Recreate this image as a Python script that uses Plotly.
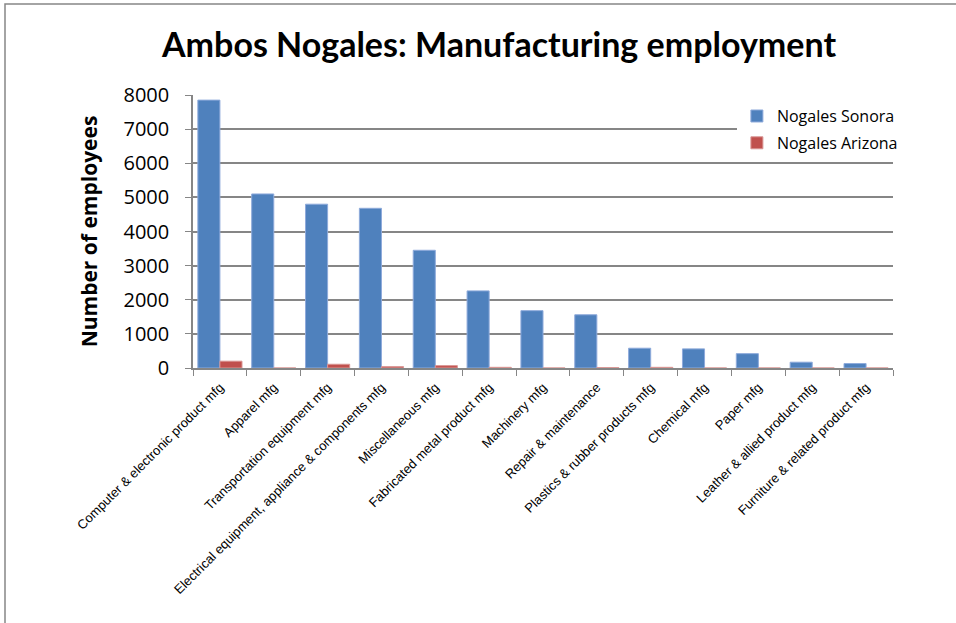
import plotly.graph_objects as go

# Manufacturing employment by industry, both sides of the border
categories = [
    "Computer & electronic product mfg",
    "Apparel mfg",
    "Transportation equipment mfg",
    "Electrical equipment, appliance & components mfg",
    "Miscellaneous mfg",
    "Fabricated metal product mfg",
    "Machinery mfg",
    "Repair & maintenance",
    "Plastics & rubber products mfg",
    "Chemical mfg",
    "Paper mfg",
    "Leather & allied product mfg",
    "Furniture & related product mfg",
]
nogales_sonora = [7850, 5100, 4800, 4680, 3450, 2260, 1680, 1560, 580, 560, 420, 170, 130]
nogales_arizona = [200, 0, 110, 40, 70, 20, 0, 10, 20, 0, 0, 0, 0]
y_ticks = [0, 1000, 2000, 3000, 4000, 5000, 6000, 7000, 8000]

GRID = "#868686"
BLUE = "#4F81BD"
RED = "#C0504D"

fig = go.Figure()
fig.add_trace(go.Bar(
    x=categories, y=nogales_sonora, name="Nogales Sonora",
    marker=dict(color=BLUE, line=dict(color="#8EAADB", width=1)),
    legendgroup="a",
))
fig.add_trace(go.Bar(
    x=categories, y=nogales_arizona, name="Nogales Arizona",
    marker=dict(color=RED, line=dict(color="#D99694", width=1)),
    legendgroup="b",
))

# plot-area geometry in pixels, used for the outer frame in paper units
L, R, T, B = 193, 63, 95, 255
W, H = 956 - L - R, 623 - T - B

fig.update_layout(
    width=956, height=623,
    margin=dict(l=L, r=R, t=T, b=B),
    paper_bgcolor="white", plot_bgcolor="white",
    barmode="group", bargap=0.18, bargroupgap=0,
    title=dict(
        text="<b>Ambos Nogales: Manufacturing employment</b>",
        font=dict(family="Lato", size=34, color="black"),
        x=0.522, xanchor="center", y=0.928, yanchor="middle",
    ),
    legend=dict(
        x=0.777, y=0.985, xanchor="left", yanchor="top",
        bgcolor="white", font=dict(family="Open Sans", size=16, color="black"),
        tracegroupgap=3, itemwidth=30,
    ),
    showlegend=True,
    xaxis=dict(
        type="category", tickson="boundaries", ticks="outside", ticklen=6,
        tickcolor=GRID, showline=True, linecolor=GRID, linewidth=1.5,
        tickangle=-45, tickfont=dict(family="Liberation Sans", size=13, color="black"),
        ticklabelstandoff=5,
        showgrid=False,
    ),
    yaxis=dict(
        range=[0, 8000], tickvals=y_ticks, ticks="outside", ticklen=6,
        tickcolor=GRID, showline=True, linecolor=GRID, linewidth=1.5,
        showgrid=True, gridcolor=GRID, gridwidth=1.5, zeroline=False,
        tickfont=dict(family="Open Sans", size=20, color="black"),
        ticklabelstandoff=12,
        title=dict(text="<b>Number of employees</b>",
                   font=dict(family="Open Sans", size=21, color="black"),
                   standoff=20),
    ),
    shapes=[dict(
        type="rect", xref="paper", yref="paper",
        x0=(5 - L) / W, x1=(1000 - L) / W,
        y0=(623 - B - 700) / H, y1=(623 - B - 4) / H,
        line=dict(color=GRID, width=1.5), fillcolor="rgba(0,0,0,0)", layer="below",
    )],
)

fig.write_html("out.html")
